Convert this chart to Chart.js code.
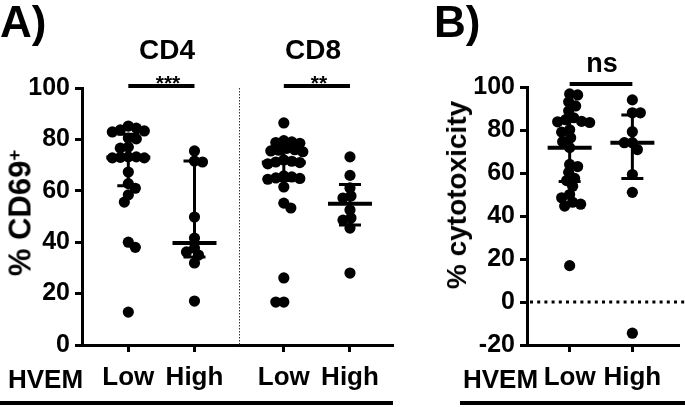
<!DOCTYPE html>
<html><head><meta charset="utf-8">
<script src="https://cdn.jsdelivr.net/npm/chart.js@4.4.1/dist/chart.umd.min.js"></script>
<style>
html,body{margin:0;padding:0;background:#fff;}
body{width:685px;height:407px;overflow:hidden;position:relative;font-family:"Liberation Sans",Arial,sans-serif;font-weight:bold;color:#000;}
.t{position:absolute;white-space:nowrap;line-height:1;}
.c{transform:translateX(-50%);}
.r{transform:translate(-50%,-50%) rotate(-90deg);}
canvas{position:absolute;top:0;}
.ul{position:absolute;height:4px;background:#000;}
sup{font-size:0.6em;vertical-align:0.55em;line-height:0;}
</style></head><body>
<canvas id="ca" width="400" height="407" style="left:0;width:400px;height:407px"></canvas>
<canvas id="cb" width="285" height="407" style="left:400px;width:285px;height:407px"></canvas>

<div class="t" style="left:0;top:0;font-size:44px">A)</div>
<div class="t" style="left:434px;top:0;font-size:44px">B)</div>
<div class="t c" style="left:167px;top:36px;font-size:28px">CD4</div>
<div class="t c" style="left:313px;top:36px;font-size:28px">CD8</div>
<div class="t c" style="left:168px;top:72px;font-size:21px">***</div>
<div class="t c" style="left:319px;top:72px;font-size:21px">**</div>
<div class="t c" style="left:602px;top:50px;font-size:27px">ns</div>
<div class="t r" style="left:20px;top:213px;font-size:31px">% CD69<sup>+</sup></div>
<div class="t r" style="left:457px;top:195px;font-size:28px">% cytotoxicity</div>
<div class="t" style="left:8px;top:366px;font-size:26px">HVEM</div>
<div class="t" style="left:463px;top:366px;font-size:26px">HVEM</div>
<div class="ul" style="left:0;top:401px;width:393px"></div>
<div class="ul" style="left:460px;top:401px;width:225px"></div>

<script>
// ---------- data ----------
const categoriesA = ['Low', 'High', 'Low', 'High'];   // HVEM level, CD4 pair then CD8 pair
const categoriesB = ['Low', 'High'];
const cd4Low  = [85.2, 84.4, 83.7, 83.3, 82.9, 80.5, 80.2, 77, 76.6, 73.2, 73.2, 73, 72.8, 72.8, 67.3, 62.8, 61, 58.4, 55.6, 40, 38, 12.8];
const cd4High = [75.5, 71.6, 71.2, 49.8, 41.6, 37.7, 36.2, 35, 31.9, 17.1];
const cd8Low  = [86.4, 79.5, 79, 78.8, 78.5, 76.5, 76, 75.8, 75.5, 75.2, 72, 71.5, 71.2, 71, 70.5, 65.8, 65.4, 65, 64.8, 64.5, 61.5, 55.2, 53.3, 26.1, 16.7, 16.7];
const cd8High = [73.2, 66, 61.1, 58, 57.2, 52.5, 49.4, 48.6, 45.5, 28];
const cytoLow  = [96.8, 96.3, 93.1, 91.2, 88.9, 85.7, 84.8, 84, 83.8, 83.5, 80.1, 79, 76.4, 74.6, 71.8, 64, 63, 60.3, 57.5, 56.5, 53.8, 50, 48.5, 46.4, 45.5, 44.6, 16.9];
const cytoHigh = [94, 88, 88, 79.2, 74.1, 74.1, 70.9, 59.3, 51, -14.5];
const medianA = [73, 39.7, 71, 55];
const q1A     = [62, 34.2, 64, 46.7];
const q3A     = [82, 71.6, 77, 62.5];
const medianB = [71.8, 74.1];
const q1B     = [56, 57.5];
const q3B     = [85, 87];
const yTicksA = [0, 20, 40, 60, 80, 100];
const yTicksB = [-20, 0, 20, 40, 60, 80, 100];
const sigPairsA = [[0, 1], [2, 3]];   // compared groups (bars drawn between them)
const sigPairsB = [[0, 1]];

// ---------- layout (not data) ----------
const posA = [0.7, 1.7, 3.05, 4.05], maxA = 4.7, sepA = 2.38;
const posB = [0.68, 1.68], maxB = 2.43;
const FONT = 'Liberation Sans';

function swarmOffsets(vals, yScale, minDist) {
  const placed = [];
  const out = new Array(vals.length).fill(0);
  const order = vals.map((v, j) => j).sort((a, b) => vals[b] - vals[a]);
  let flip = 1;
  order.forEach(j => {
    const py = yScale.getPixelForValue(vals[j]);
    const free = ox => placed.every(p => (p.x - ox) ** 2 + (p.y - py) ** 2 >= minDist * minDist);
    let off = null;
    for (let k = 0; k < 300 && off === null; k++) {
      if (k === 0) { if (free(0)) off = 0; continue; }
      const a = flip * k, b = -flip * k;
      if (free(a)) off = a; else if (free(b)) off = b;
    }
    if (off !== 0) flip = -flip;
    placed.push({ x: off, y: py });
    out[j] = off;
  });
  return out;
}

const overlay = {
  id: 'overlay',
  beforeDatasetsDraw(chart) {
    const o = chart.options.plugins.overlay, x = chart.scales.x, y = chart.scales.y, ctx = chart.ctx, ca = chart.chartArea;
    ctx.save();
    if (o.sep !== undefined) {
      ctx.strokeStyle = '#333'; ctx.lineWidth = 1; ctx.setLineDash([1.5, 1.5]);
      const sx = Math.round(x.getPixelForValue(o.sep)) + 0.5;
      ctx.beginPath(); ctx.moveTo(sx, ca.top); ctx.lineTo(sx, ca.bottom); ctx.stroke();
    }
    if (o.zero) {
      ctx.strokeStyle = '#000'; ctx.lineWidth = 3; ctx.setLineDash([3, 4.2]);
      const zy = y.getPixelForValue(0);
      ctx.beginPath(); ctx.moveTo(ca.left + 3, zy); ctx.lineTo(chart.width, zy); ctx.stroke();
    }
    ctx.restore();
  },
  afterDatasetsDraw(chart) {
    const o = chart.options.plugins.overlay, x = chart.scales.x, y = chart.scales.y, ctx = chart.ctx;
    ctx.save();
    ctx.strokeStyle = '#000'; ctx.lineCap = 'butt';
    o.pos.forEach((p, i) => {
      const cx = x.getPixelForValue(p);
      const ym = y.getPixelForValue(o.med[i]), y1 = y.getPixelForValue(o.q1[i]), y3 = y.getPixelForValue(o.q3[i]);
      ctx.lineWidth = 3;
      ctx.beginPath(); ctx.moveTo(cx, y1); ctx.lineTo(cx, y3); ctx.stroke();
      ctx.beginPath(); ctx.moveTo(cx - 11, y1); ctx.lineTo(cx + 11, y1); ctx.moveTo(cx - 11, y3); ctx.lineTo(cx + 11, y3); ctx.stroke();
      ctx.lineWidth = 4;
      ctx.beginPath(); ctx.moveTo(cx - 22, ym); ctx.lineTo(cx + 22, ym); ctx.stroke();
    });
    ctx.lineWidth = 4;
    o.sig.forEach(pr => {
      const sy = y.getPixelForValue(o.sigY);
      ctx.beginPath(); ctx.moveTo(x.getPixelForValue(o.pos[pr[0]]), sy); ctx.lineTo(x.getPixelForValue(o.pos[pr[1]]), sy); ctx.stroke();
    });
    ctx.restore();
  }
};

function makeChart(id, groups, pos, max, yMin, yMax, yTicks, labels, pad, yWidth, ov) {
  const datasets = groups.map((vals, i) => ({
    vals: vals,
    data: vals.map(v => ({ x: pos[i], y: v })),
    pointRadius: 5.6, pointHoverRadius: 5.6, backgroundColor: '#000', borderWidth: 0, clip: false
  }));
  const tickFont = { family: FONT, size: 25, weight: 'bold' };
  const chart = new Chart(document.getElementById(id), {
    type: 'scatter',
    data: { datasets },
    options: {
      responsive: false, animation: false, events: [],
      layout: { padding: pad },
      plugins: { legend: { display: false }, tooltip: { enabled: false }, overlay: ov },
      scales: {
        x: {
          type: 'linear', min: 0, max: max,
          afterFit(s) { s.height = 62; },
          afterBuildTicks(s) { s.ticks = pos.map(v => ({ value: v })); },
          ticks: { callback: (v, i) => labels[i], color: '#000', font: { family: FONT, size: 26, weight: 'bold' }, padding: 10, autoSkip: false, maxRotation: 0 },
          grid: { drawOnChartArea: false, drawTicks: true, tickLength: 7, tickWidth: 3, tickColor: '#000' },
          border: { width: 3, color: '#000' }
        },
        y: {
          min: yMin, max: yMax,
          afterFit(s) { s.width = yWidth; },
          afterBuildTicks(s) { s.ticks = yTicks.map(v => ({ value: v })); },
          ticks: { color: '#000', font: tickFont, padding: 5 },
          grid: { drawOnChartArea: false, drawTicks: true, tickLength: 7, tickWidth: 3, tickColor: '#000' },
          border: { width: 3, color: '#000' }
        }
      }
    },
    plugins: [overlay]
  });
  // beeswarm spread computed through the chart's own scales
  const ux = chart.scales.x.getPixelForValue(1) - chart.scales.x.getPixelForValue(0);
  chart.data.datasets.forEach((ds, i) => {
    const offs = swarmOffsets(ds.vals, chart.scales.y, 8);
    ds.data = ds.vals.map((v, j) => ({ x: pos[i] + offs[j] / ux, y: v }));
  });
  chart.update('none');
  return chart;
}

makeChart('ca', [cd4Low, cd4High, cd8Low, cd8High], posA, maxA, 0, 100, yTicksA, categoriesA,
  { top: 88, right: 7, left: 0, bottom: 0 }, 82,
  { pos: posA, med: medianA, q1: q1A, q3: q3A, sep: sepA, sig: sigPairsA, sigY: 100.8 });

makeChart('cb', [cytoLow, cytoHigh], posB, maxB, -20, 100, yTicksB, categoriesB,
  { top: 87, right: 0, left: 0, bottom: 0 }, 127,
  { pos: posB, med: medianB, q1: q1B, q3: q3B, zero: true, sig: sigPairsB, sigY: 101.4 });
</script>
</body></html>
